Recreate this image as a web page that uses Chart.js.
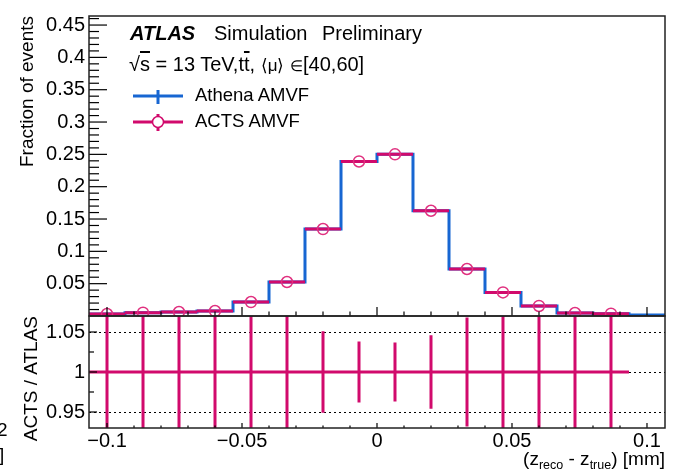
<!DOCTYPE html>
<html>
<head>
<meta charset="utf-8">
<script src="https://cdn.jsdelivr.net/npm/chart.js@4.4.1/dist/chart.umd.min.js"></script>
<style>
    body { margin: 0; background: #fff; }
    #wrap { position: relative; width: 689px; height: 474px; overflow: hidden; font-family: "Liberation Sans", Arial, sans-serif; color: #000; }
    #wrap canvas { position: absolute; left: 0; top: 0; }
    .t { position: absolute; white-space: nowrap; line-height: 1; }
    .ov { text-decoration: overline; }
    .sub { font-size: 12.5px; position: relative; top: 4px; }
</style>
</head>
<body>
<div id="wrap">
    <canvas id="chart" width="689" height="474"></canvas>

    <div class="t" style="left:130px; top:23px; font-size:20px; font-weight:bold; font-style:italic">ATLAS</div>
    <div class="t" style="left:214px; top:23px; font-size:20px">Simulation</div>
    <div class="t" style="left:322px; top:23px; font-size:20px">Preliminary</div>
    <div class="t" style="left:129px; top:54px; font-size:20px">√<span class="ov">s</span> = 13 TeV,t<span class="ov">t</span>, <span style="font-size:17px">⟨μ⟩</span> <span style="font-size:15px">∈</span>[40,60]</div>

    <svg style="position:absolute; left:130px; top:84px" width="60" height="50">
        <line x1="3" y1="12" x2="53" y2="12" stroke="#1766d2" stroke-width="3"/>
        <line x1="28" y1="6" x2="28" y2="20" stroke="#1766d2" stroke-width="3"/>
        <line x1="3" y1="38" x2="53" y2="38" stroke="#d10a6c" stroke-width="3"/>
        <line x1="28" y1="30" x2="28" y2="47" stroke="#d10a6c" stroke-width="3"/>
        <circle cx="28" cy="38" r="5.5" fill="#fff" stroke="#d10a6c" stroke-width="1.5"/>
    </svg>
    <div class="t" style="left:195px; top:86px; font-size:18.5px">Athena AMVF</div>
    <div class="t" style="left:195px; top:112px; font-size:18.5px">ACTS AMVF</div>

    <div class="t" style="right:24px; top:449px; font-size:19px">(z<span class="sub">reco</span> - z<span class="sub">true</span>) [mm]</div>

    <!-- cut-off text from the neighbouring figure -->
    <div class="t" style="left:-3px; top:420px; font-size:19px">2</div>
    <div class="t" style="left:-1px; top:445px; font-size:19px">]</div>
</div>

<script>

// Bin edges of the (z_reco - z_true) histogram [mm]
const binEdges = [
    -0.10667, -0.09333, -0.08, -0.06667, -0.05333, -0.04, -0.02667, -0.01333,
    0, 0.01333, 0.02667, 0.04, 0.05333, 0.06667, 0.08, 0.09333, 0.10667
];

// Fraction of events per bin
const athenaFrac = [
    0.0031, 0.0051, 0.0062, 0.0077, 0.0216, 0.0526, 0.1345, 0.239,
    0.250, 0.1628, 0.0727, 0.0365, 0.0155, 0.0046, 0.0036, 0.0015
];
const actsFrac = [
    0.0031, 0.0051, 0.0062, 0.0077, 0.0216, 0.0526, 0.1345, 0.239,
    0.250, 0.1628, 0.0727, 0.0365, 0.0155, 0.0046, 0.0036, null
];

// ACTS / ATLAS ratio and its uncertainty per bin
const ratio = [ 1, 1, 1, 1, 1, 1, 1, 1, 1, 1, 1, 1, 1, 1, 1, null ];
const ratioErr = [
    0.29, 0.26, 0.22, 0.19, 0.13, 0.08, 0.051, 0.038,
    0.037, 0.046, 0.068, 0.095, 0.14, 0.24, 0.26, null
];

// Axis ticks
const xTicks = [ -0.1, -0.05, 0, 0.05, 0.1 ];
const mainTicks = [ 0.05, 0.1, 0.15, 0.2, 0.25, 0.3, 0.35, 0.4, 0.45 ];
const ratioTicks = [ 0.95, 1, 1.05 ];

const X_MIN = -0.10667, X_MAX = 0.10667;
const Y_MAX = 0.464;
const R_MIN = 0.93, R_MAX = 1.07;

const BLUE = '#1766d2', PINK = '#d10a6c';
const FONT = '"Liberation Sans", Arial, sans-serif';

/**
 * Builds the points of a step histogram, one per edge.
 */
function stepPoints ( edges, vals ) {

    const pts = vals.map( ( v, i ) => ( { x: edges[ i ], y: v } ) );
    pts.push( { x: edges[ edges.length - 1 ], y: vals[ vals.length - 1 ] } );
    return pts;

}

/**
 * Builds separate horizontal bars, one per bin, broken with null points.
 */
function binBars ( edges, vals ) {

    const pts = [];

    vals.forEach( ( v, i ) => {
        if ( v === null ) return;
        pts.push( { x: edges[ i ], y: v }, { x: edges[ i + 1 ], y: v }, { x: edges[ i + 1 ], y: null } );
    } );

    return pts;

}

/**
 * Builds vertical error bars at bin centres, clamped to the ratio range.
 */
function errBars ( edges, vals, errs ) {

    const pts = [];

    vals.forEach( ( v, i ) => {
        if ( v === null ) return;
        const c = ( edges[ i ] + edges[ i + 1 ] ) / 2;
        pts.push(
            { x: c, y: Math.max( v - errs[ i ], R_MIN ) },
            { x: c, y: Math.min( v + errs[ i ], R_MAX ) },
            { x: c, y: null }
        );
    } );

    return pts;

}

const centres = actsFrac
    .map( ( v, i ) => ( { x: ( binEdges[ i ] + binEdges[ i + 1 ] ) / 2, y: v } ) )
    .filter( p => p.y !== null );

// Inward ROOT-like ticks and pad frames
const rootFrame = {
    id: 'rootFrame',
    afterDatasetsDraw ( chart ) {

        const { ctx, chartArea: a, scales: { x, y, yr } } = chart;

        ctx.save();
        ctx.strokeStyle = '#000';
        ctx.lineWidth = 1.2;

        const tick = ( x0, y0, x1, y1 ) => {
            ctx.beginPath(); ctx.moveTo( x0, y0 ); ctx.lineTo( x1, y1 ); ctx.stroke();
        };

        // main pad: y ticks
        for ( let i = 1; i * 0.01 < Y_MAX; ++i ) {
            const py = y.getPixelForValue( i * 0.01 );
            tick( a.left, py, a.left + ( i % 5 === 0 ? 18 : 10 ), py );
        }

        // x ticks on both pads
        for ( let i = -10; i <= 10; ++i ) {
            const px = x.getPixelForValue( i * 0.01 );
            const major = i % 5 === 0;
            tick( px, y.bottom, px, y.bottom - ( major ? 9 : 4.5 ) );
            tick( px, yr.bottom, px, yr.bottom - ( major ? 5 : 2.5 ) );
        }

        // ratio pad: y ticks
        [ 0.95, 0.975, 1, 1.025, 1.05 ].forEach( ( v, i ) => {
            const py = yr.getPixelForValue( v );
            tick( a.left, py, a.left + ( i % 2 === 0 ? 8 : 5 ), py );
        } );

        // frames
        ctx.lineWidth = 1.5;
        ctx.strokeStyle = '#222';
        ctx.strokeRect( a.left, y.top, a.right - a.left, y.bottom - y.top );
        ctx.strokeRect( a.left, yr.top, a.right - a.left, yr.bottom - yr.top );

        ctx.restore();

    }
};

new Chart( document.getElementById( 'chart' ), {
    type: 'line',
    data: {
        datasets: [
            {
                // ACTS markers
                data: centres,
                yAxisID: 'y',
                showLine: false,
                pointRadius: 5.5,
                pointBorderWidth: 1.5,
                pointBorderColor: '#e0307f',
                pointBackgroundColor: 'rgba(0,0,0,0)',
                order: 0
            },
            {
                // ACTS horizontal bars
                data: binBars( binEdges, actsFrac ),
                yAxisID: 'y',
                borderColor: PINK,
                borderWidth: 3,
                pointRadius: 0,
                spanGaps: false,
                order: 1
            },
            {
                // Athena step histogram
                data: stepPoints( binEdges, athenaFrac ),
                yAxisID: 'y',
                borderColor: BLUE,
                borderWidth: 3,
                pointRadius: 0,
                stepped: 'before',
                order: 2
            },
            {
                // ratio horizontal bars
                data: binBars( binEdges, ratio ),
                yAxisID: 'yr',
                borderColor: PINK,
                borderWidth: 3,
                pointRadius: 0,
                spanGaps: false,
                clip: 0,
                order: 3
            },
            {
                // ratio error bars
                data: errBars( binEdges, ratio, ratioErr ),
                yAxisID: 'yr',
                borderColor: PINK,
                borderWidth: 3,
                borderCapStyle: 'butt',
                pointRadius: 0,
                spanGaps: false,
                clip: 0,
                order: 4
            }
        ]
    },
    plugins: [ rootFrame ],
    options: {
        responsive: false,
        animation: false,
        layout: { padding: { left: 0, right: 24, top: 16, bottom: 0 } },
        plugins: {
            legend: { display: false },
            tooltip: { enabled: false }
        },
        scales: {
            x: {
                type: 'linear',
                position: 'bottom',
                min: X_MIN,
                max: X_MAX,
                afterBuildTicks: s => { s.ticks = xTicks.map( v => ( { value: v } ) ); },
                afterFit: s => { s.height = 46; },
                grid: { display: false, drawTicks: false },
                border: { display: false },
                ticks: {
                    padding: 1,
                    autoSkip: false,
                    color: '#000',
                    font: { family: FONT, size: 20 },
                    maxRotation: 0,
                    callback: v => v < 0 ? '\u2212' + Math.abs( v ) : String( v )
                }
            },
            yr: {
                type: 'linear',
                position: 'left',
                stack: 'pads',
                stackWeight: 112,
                min: R_MIN,
                max: R_MAX,
                afterBuildTicks: s => { s.ticks = ratioTicks.map( v => ( { value: v } ) ); },
                afterFit: s => { s.width = 89; },
                grid: { display: true, drawTicks: false, color: '#000', lineWidth: 1 },
                border: { display: false, dash: [ 2, 3 ] },
                ticks: {
                    padding: 4,
                    autoSkip: false,
                    color: '#000',
                    font: { family: FONT, size: 20 },
                    callback: v => String( v )
                },
                title: {
                    display: true,
                    text: 'ACTS / ATLAS',
                    align: 'end',
                    color: '#000',
                    font: { family: FONT, size: 19 },
                    padding: { top: 20, bottom: 0 }
                }
            },
            y: {
                type: 'linear',
                position: 'left',
                stack: 'pads',
                stackWeight: 300,
                min: 0,
                max: Y_MAX,
                afterBuildTicks: s => { s.ticks = mainTicks.map( v => ( { value: v } ) ); },
                afterFit: s => { s.width = 89; },
                grid: { display: false, drawTicks: false },
                border: { display: false },
                ticks: {
                    padding: 4,
                    autoSkip: false,
                    color: '#000',
                    font: { family: FONT, size: 20 },
                    callback: v => String( v )
                },
                title: {
                    display: true,
                    text: 'Fraction of events',
                    align: 'end',
                    color: '#000',
                    font: { family: FONT, size: 19 },
                    padding: { top: 16, bottom: 0 }
                }
            }
        }
    }
} );

</script>
</body>
</html>
